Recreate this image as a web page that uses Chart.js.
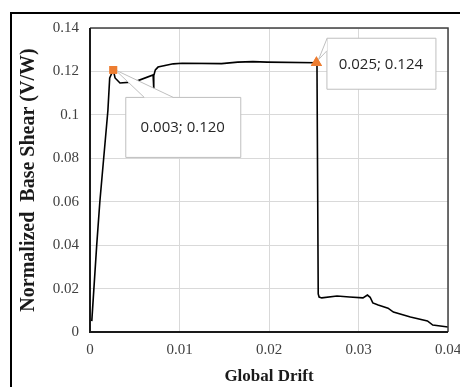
<!DOCTYPE html>
<html>
<head>
<meta charset="utf-8">
<script src="https://cdn.jsdelivr.net/npm/chart.js@4.4.1/dist/chart.umd.min.js"></script>
<style>
  html, body { margin: 0; padding: 0; background: #ffffff; }
  #wrap { width: 460px; height: 387px; position: relative; }
</style>
</head>
<body>
<div id="wrap"><canvas id="c" width="460" height="387"></canvas></div>
<script>
// ---- data ----
const drift = [0.0002, 0.00075, 0.0011, 0.0020, 0.0022, 0.0026, 0.0028, 0.00335, 0.0050, 0.00705, 0.0071, 0.00715, 0.0073, 0.0076, 0.0093, 0.0103, 0.0147, 0.0165, 0.0182, 0.0198, 0.0253, 0.02536, 0.0255, 0.0256, 0.0259, 0.0276, 0.0290, 0.0305, 0.0310, 0.0313, 0.0316, 0.0322, 0.0333, 0.0339, 0.0358, 0.0377, 0.0383, 0.0400];
const shear = [0.005, 0.040, 0.060, 0.102, 0.117, 0.1207, 0.117, 0.1147, 0.1152, 0.1184, 0.112, 0.118, 0.1207, 0.122, 0.1235, 0.1238, 0.1236, 0.1243, 0.1245, 0.1243, 0.124, 0.1235, 0.0175, 0.0161, 0.0157, 0.0166, 0.0161, 0.0157, 0.0170, 0.0160, 0.0134, 0.0124, 0.0110, 0.0092, 0.0069, 0.0051, 0.0032, 0.0023];

const markDrift = [0.0026, 0.0253];
const markShear = [0.1207, 0.124];
const markStyles = ['rect', 'triangle'];
const markLabels = ['0.003; 0.120', '0.025; 0.124'];

const xTickLabels = ['0', '0.01', '0.02', '0.03', '0.04'];
const yTickLabels = ['0', '0.02', '0.04', '0.06', '0.08', '0.1', '0.12', '0.14'];

const xTitle = 'Global Drift';
const yTitle = 'Normalized  Base Shear (V/W)';

const lineData = drift.map((d, i) => ({ x: d, y: shear[i] }));
const markData = markDrift.map((d, i) => ({ x: d, y: markShear[i] }));

const SERIF = '"Liberation Serif", "Times New Roman", serif';

const frame = {
  id: 'frame',
  beforeDraw(chart) {
    const ctx = chart.ctx;
    ctx.save();
    ctx.strokeStyle = '#000';
    ctx.lineWidth = 2;
    ctx.beginPath();
    ctx.moveTo(11, 387);
    ctx.lineTo(11, 13);
    ctx.lineTo(460, 13);
    ctx.stroke();
    ctx.restore();
  },
  afterDraw(chart) {
    const ctx = chart.ctx;
    const a = chart.chartArea;
    ctx.save();
    ctx.strokeStyle = '#404040';
    ctx.lineWidth = 1.5;
    ctx.beginPath();
    ctx.moveTo(a.left, a.top);
    ctx.lineTo(a.right, a.top);
    ctx.lineTo(a.right, a.bottom);
    ctx.stroke();
    ctx.strokeStyle = '#1a1a1a';
    ctx.lineWidth = 2;
    ctx.beginPath();
    ctx.moveTo(a.left, a.top);
    ctx.lineTo(a.left, a.bottom);
    ctx.lineTo(a.right, a.bottom);
    ctx.stroke();
    ctx.restore();
  }
};

function callout(ctx, box, tip, b1, b2, text) {
  ctx.save();
  ctx.fillStyle = '#ffffff';
  ctx.strokeStyle = '#bfbfbf';
  ctx.lineWidth = 1;
  ctx.beginPath();
  ctx.rect(box[0] + 0.5, box[1] + 0.5, box[2] - box[0], box[3] - box[1]);
  ctx.fill();
  ctx.stroke();
  ctx.beginPath();
  ctx.moveTo(b1[0], b1[1]);
  ctx.lineTo(tip[0], tip[1]);
  ctx.lineTo(b2[0], b2[1]);
  ctx.closePath();
  ctx.fill();
  ctx.beginPath();
  ctx.moveTo(b1[0], b1[1]);
  ctx.lineTo(tip[0], tip[1]);
  ctx.lineTo(b2[0], b2[1]);
  ctx.stroke();
  ctx.fillStyle = '#262626';
  ctx.font = '15px "Open Sans"';
  ctx.textAlign = 'center';
  ctx.textBaseline = 'middle';
  ctx.fillText(text, (box[0] + box[2]) / 2, (box[1] + box[3]) / 2 + 1);
  ctx.restore();
}

const callouts = {
  id: 'callouts',
  afterDatasetsDraw(chart) {
    const ctx = chart.ctx;
    const xs = chart.scales.x, ys = chart.scales.y;
    let px = xs.getPixelForValue(markDrift[0]);
    let py = ys.getPixelForValue(markShear[0]);
    callout(ctx, [px + 12, py + 27, px + 127, py + 87], [px + 2, py], [px + 31, py + 27.5], [px + 60, py + 27.5], markLabels[0]);
    px = xs.getPixelForValue(markDrift[1]);
    py = ys.getPixelForValue(markShear[1]);
    callout(ctx, [px + 10, py - 25, px + 119, py + 26], [px + 2, py - 3], [px + 10.5, py - 24], [px + 10.5, py - 12], markLabels[1]);
    chart.getDatasetMeta(0).controller.draw();
  }
};

new Chart(document.getElementById('c'), {
  type: 'scatter',
  data: {
    datasets: [
      {
        label: 'points',
        data: markData,
        pointStyle: markStyles,
        pointRadius: [5.5, 6.5],
        pointBackgroundColor: '#ED7D31',
        pointBorderColor: '#ED7D31',
        pointBorderWidth: 0,
        showLine: false,
        order: 0
      },
      {
        label: 'curve',
        data: lineData,
        showLine: true,
        borderColor: '#000000',
        borderWidth: 1.6,
        pointRadius: 0,
        tension: 0,
        order: 1
      }
    ]
  },
  plugins: [frame, callouts],
  options: {
    responsive: false,
    animation: false,
    events: [],
    layout: { padding: { left: 0, top: 28, right: 0, bottom: 0 } },
    plugins: { legend: { display: false }, tooltip: { enabled: false } },
    scales: {
      x: {
        type: 'linear',
        min: 0, max: 0.04,
        afterFit(s) { s.height = 55; s.paddingRight = 12; },
        afterBuildTicks(s) { s.ticks = xTickLabels.map(t => ({ value: parseFloat(t) })); },
        grid: { color: '#d9d9d9', lineWidth: 1, drawTicks: false },
        border: { display: false },
        ticks: {
          padding: 9,
          color: '#404040',
          font: { family: SERIF, size: 15 },
          maxRotation: 0,
          callback: (v, i) => xTickLabels[i]
        },
        title: {
          display: true,
          text: xTitle,
          color: '#1a1a1a',
          font: { family: SERIF, size: 17, weight: 'bold' },
          padding: { top: 0, bottom: 0 }
        }
      },
      y: {
        type: 'linear',
        min: 0, max: 0.14,
        afterFit(s) { s.width = 90; },
        afterBuildTicks(s) { s.ticks = yTickLabels.map(t => ({ value: parseFloat(t) })); },
        grid: { color: '#d9d9d9', lineWidth: 1, drawTicks: false },
        border: { display: false },
        ticks: {
          padding: 11,
          color: '#404040',
          font: { family: SERIF, size: 15 },
          callback: (v, i) => yTickLabels[i]
        },
        title: {
          display: true,
          text: yTitle,
          color: '#1a1a1a',
          font: { family: SERIF, size: 20, weight: 'bold' },
          padding: { top: 17, bottom: 0 }
        }
      }
    }
  }
});
</script>
</body>
</html>
